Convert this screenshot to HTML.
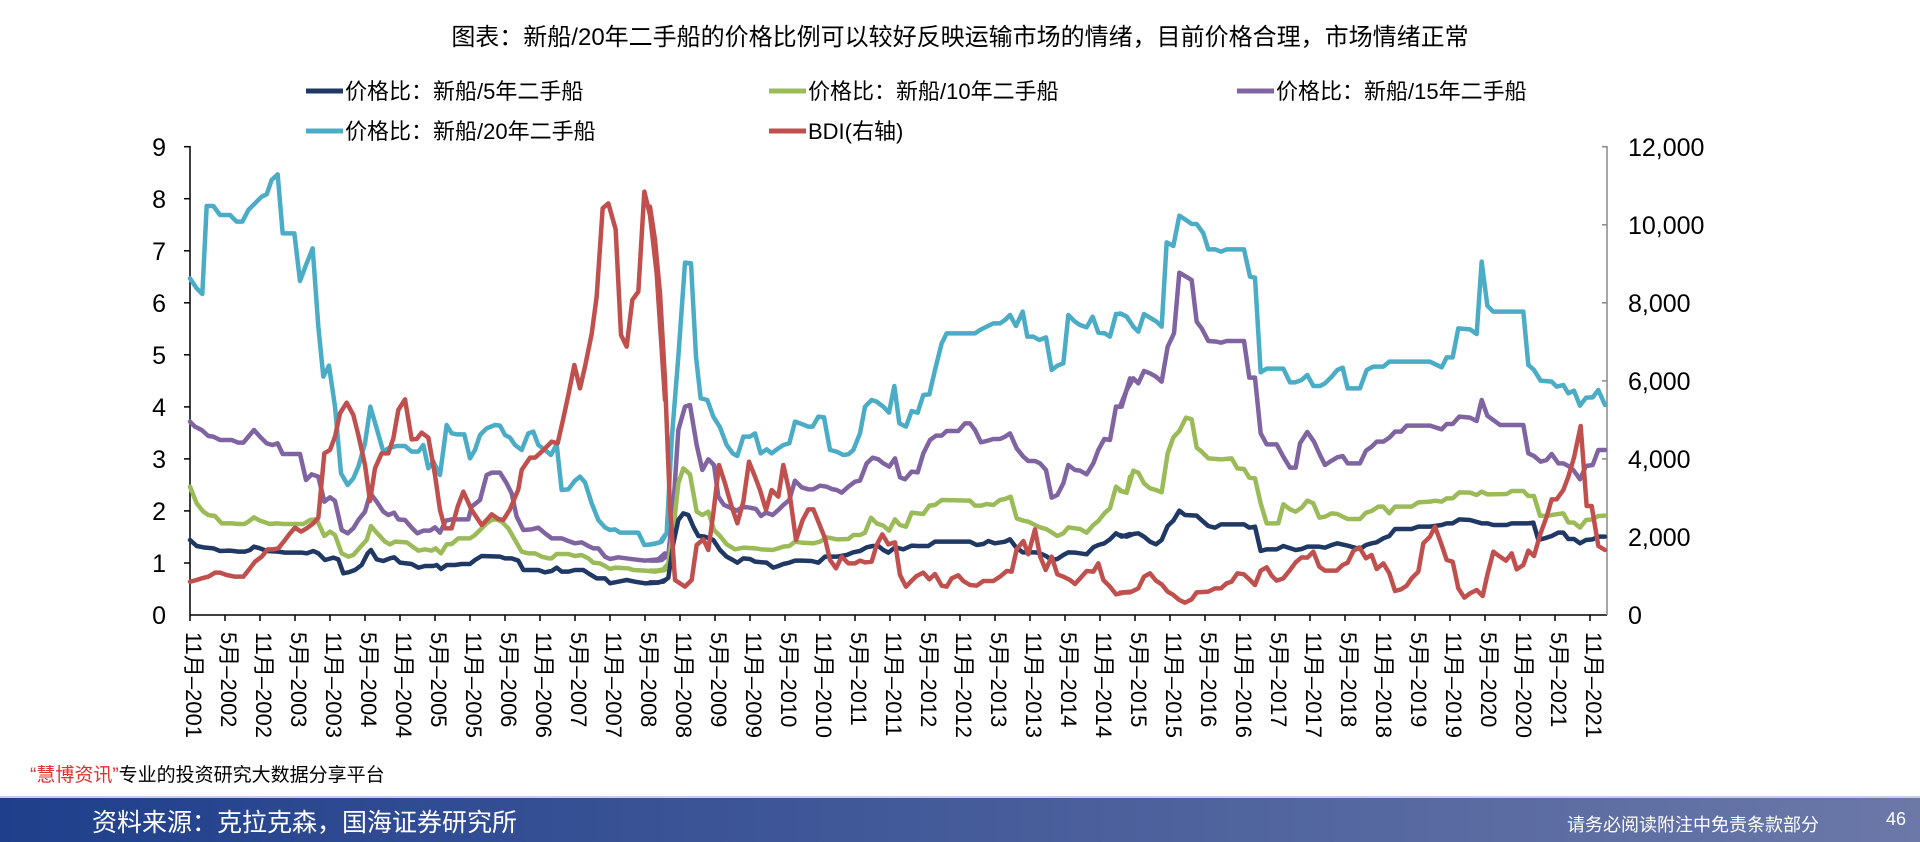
<!DOCTYPE html>
<html><head><meta charset="utf-8"><style>
html,body{margin:0;padding:0;background:#fff;}
body{width:1920px;height:842px;overflow:hidden;position:relative;font-family:"Liberation Sans","Noto Sans CJK SC",sans-serif;}
svg{position:absolute;left:0;top:0;}
text{font-family:"Liberation Sans","Noto Sans CJK SC",sans-serif;}
.s{fill:none;stroke-width:4.5;stroke-linejoin:round;stroke-linecap:round;vector-effect:non-scaling-stroke;}
.lb{stroke:#4bacc6}.p{stroke:#8064a2}.g{stroke:#9bbb59}.n{stroke:#1f3864}.r{stroke:#c0504d}
</style></head><body>
<svg width="1920" height="842" viewBox="0 0 1920 842">
<defs><linearGradient id="ft" x1="0" x2="1" y1="0" y2="0"><stop offset="0" stop-color="#1f3f8c"/><stop offset="1" stop-color="#6b78a8"/></linearGradient></defs>
<text x="960" y="45" font-size="24" text-anchor="middle" fill="#000">图表：新船/20年二手船的价格比例可以较好反映运输市场的情绪，目前价格合理，市场情绪正常</text>
<g font-size="22" fill="#000">
<line x1="306" y1="91" x2="343" y2="91" stroke="#1f3864" stroke-width="5"/><text x="345" y="99">价格比：新船/5年二手船</text>
<line x1="769" y1="91" x2="806" y2="91" stroke="#9bbb59" stroke-width="5"/><text x="808" y="99">价格比：新船/10年二手船</text>
<line x1="1237" y1="91" x2="1274" y2="91" stroke="#8064a2" stroke-width="5"/><text x="1276" y="99">价格比：新船/15年二手船</text>
<line x1="306" y1="131" x2="343" y2="131" stroke="#4bacc6" stroke-width="5"/><text x="345" y="139">价格比：新船/20年二手船</text>
<line x1="769" y1="131" x2="806" y2="131" stroke="#c0504d" stroke-width="5"/><text x="808" y="139">BDI(右轴)</text>
</g>
<g font-size="25" fill="#000" text-anchor="end">
<text x="166" y="156">9</text><text x="166" y="208">8</text><text x="166" y="260">7</text><text x="166" y="312">6</text><text x="166" y="364">5</text><text x="166" y="416">4</text><text x="166" y="468">3</text><text x="166" y="520">2</text><text x="166" y="572">1</text><text x="166" y="624">0</text>
</g>
<g font-size="25" fill="#000">
<text x="1628" y="156">12,000</text><text x="1628" y="234">10,000</text><text x="1628" y="312">8,000</text><text x="1628" y="390">6,000</text><text x="1628" y="468">4,000</text><text x="1628" y="546">2,000</text><text x="1628" y="624">0</text>
</g>
<g stroke="#000" stroke-width="1.5">
<line x1="190" y1="146" x2="190" y2="615"/>
<line x1="190" y1="615" x2="1607" y2="615"/>
<line x1="184" y1="146.7" x2="190" y2="146.7"/><line x1="184" y1="198.7" x2="190" y2="198.7"/><line x1="184" y1="250.8" x2="190" y2="250.8"/><line x1="184" y1="302.8" x2="190" y2="302.8"/><line x1="184" y1="354.8" x2="190" y2="354.8"/><line x1="184" y1="406.9" x2="190" y2="406.9"/><line x1="184" y1="458.9" x2="190" y2="458.9"/><line x1="184" y1="510.9" x2="190" y2="510.9"/><line x1="184" y1="563" x2="190" y2="563"/>
</g>
<g stroke="#888" stroke-width="1.5">
<line x1="1607" y1="146" x2="1607" y2="615"/>
<line x1="1602" y1="146.7" x2="1607" y2="146.7"/><line x1="1602" y1="224.8" x2="1607" y2="224.8"/><line x1="1602" y1="302.8" x2="1607" y2="302.8"/><line x1="1602" y1="380.9" x2="1607" y2="380.9"/><line x1="1602" y1="458.9" x2="1607" y2="458.9"/><line x1="1602" y1="537" x2="1607" y2="537"/>
</g>
<g id="xt" stroke="#000" stroke-width="1.5"></g>
<g id="xl" font-size="22" fill="#000"></g>

<g transform="translate(185,140) scale(0.33333)">
<polyline class="s lb" points="15,415 35,445 52,462 65,198 85,198 105,225 135,225 155,245 172,245 190,210 210,190 230,170 245,163 260,120 278,103 293,280 328,280 345,423 365,370 383,325 400,560 415,710 432,677 450,800 468,1000 488,1035 505,1015 520,980 540,910 556,800 575,865 595,935 610,925 635,918 660,918 680,935 700,935 715,915 730,985 745,965 765,1005 785,855 800,880 815,883 838,883 855,955 870,930 885,885 905,865 930,855 945,857 960,885 975,893 990,915 1010,930 1030,880 1045,875 1060,915 1080,930 1098,945 1115,913 1130,1050 1150,1048 1170,1022 1185,1010 1200,1027 1220,1090 1240,1140 1260,1162 1275,1170 1290,1168 1305,1178 1360,1178 1378,1215 1400,1213 1425,1207 1440,1185"/>
<polyline class="s p" points="15,845 30,860 50,870 70,888 85,890 105,900 140,900 160,908 175,908 190,890 207,870 225,890 245,910 262,915 278,910 293,942 345,942 363,1020 380,1003 400,1010 418,1085 435,1072 450,1083 470,1170 488,1180 505,1165 520,1140 540,1115 556,1060 575,1085 595,1115 610,1125 627,1118 640,1138 660,1140 680,1163 697,1180 715,1172 735,1172 750,1162 765,1178 782,1142 800,1138 850,1138 860,1100 885,1080 905,1005 920,998 945,998 965,1030 980,1060 995,1130 1015,1170 1040,1168 1060,1163 1080,1180 1100,1195 1130,1195 1150,1203 1170,1210 1190,1207 1210,1218 1225,1225 1240,1225 1260,1250 1275,1257 1300,1252 1345,1258 1380,1262 1420,1258 1440,1240"/>
<polyline class="s g" points="15,1040 35,1090 55,1115 70,1125 90,1128 110,1150 140,1150 160,1152 178,1152 190,1145 207,1132 225,1142 255,1152 275,1150 295,1152 355,1152 375,1140 395,1138 418,1188 435,1175 450,1185 470,1240 490,1250 505,1245 525,1222 545,1200 558,1158 575,1178 600,1205 615,1213 630,1205 665,1207 680,1218 700,1232 720,1228 740,1232 752,1225 768,1240 785,1213 800,1212 820,1195 855,1195 870,1185 905,1150 920,1140 935,1138 950,1145 970,1165 990,1200 1010,1235 1030,1240 1050,1240 1070,1250 1090,1255 1100,1255 1115,1242 1150,1242 1170,1248 1190,1245 1210,1255 1225,1268 1245,1270 1260,1278 1275,1287 1290,1283 1330,1285 1345,1290 1380,1292 1410,1295 1440,1290"/>
<polyline class="s n" points="15,1200 35,1218 55,1222 85,1225 105,1233 135,1232 160,1235 180,1235 195,1230 207,1220 225,1225 245,1233 280,1235 300,1238 350,1238 365,1240 385,1233 400,1240 420,1260 445,1253 460,1258 475,1300 490,1297 510,1290 530,1275 548,1240 558,1230 575,1258 595,1263 615,1255 628,1252 645,1268 680,1272 700,1283 720,1278 745,1278 755,1275 768,1287 785,1275 810,1275 830,1272 855,1272 870,1260 890,1248 945,1250 960,1255 980,1255 1000,1262 1015,1290 1035,1290 1060,1290 1080,1297 1100,1293 1115,1283 1130,1295 1150,1295 1170,1290 1195,1290 1215,1303 1235,1315 1260,1315 1275,1330 1300,1325 1325,1320 1350,1325 1380,1330 1420,1328 1440,1320"/>
<polyline class="s r" points="15,1325 35,1320 50,1315 70,1310 90,1298 105,1298 125,1305 150,1310 175,1310 195,1285 210,1265 230,1250 248,1228 265,1228 280,1225 300,1200 315,1180 330,1163 348,1175 365,1165 385,1150 400,1133 418,940 435,930 450,890 465,820 485,788 505,825 520,885 540,975 555,1083 570,985 590,940 610,940 625,895 640,810 660,778 680,898 695,897 710,878 730,893 750,1005 765,1110 780,1165 800,1165 818,1100 835,1055 860,1110 890,1155 905,1140 920,1123 940,1137 955,1140 975,1108 1000,1048 1010,990 1035,953 1050,953 1070,935 1100,905 1118,910 1135,835 1150,765 1168,675 1185,745 1200,680 1220,582 1235,470 1253,205 1270,190 1292,268 1308,585 1325,620 1342,480 1360,455 1378,155 1395,225 1415,400 1440,780"/>
</g>

<g transform="translate(650,140) scale(0.33333)">
<polyline class="s lb" points="0,1213 20,1210 35,1205 50,1180 65,900 85,650 105,368 123,370 138,650 152,775 172,780 190,830 210,862 230,915 248,940 262,948 280,890 300,890 315,880 332,940 350,928 365,940 385,925 400,915 418,910 435,845 455,852 475,860 488,860 505,830 522,832 540,930 560,935 580,945 595,943 610,930 630,880 645,800 665,780 680,785 700,800 717,818 733,738 748,850 768,860 785,813 803,818 820,765 838,763 855,690 875,610 890,580 975,580 990,570 1010,560 1030,550 1050,550 1065,540 1080,525 1098,558 1118,515 1132,590 1150,590 1168,600 1188,592 1205,690 1222,677 1240,670 1255,525 1275,545 1290,555 1310,562 1328,530 1345,578 1365,580 1380,590 1398,522 1415,522 1430,530 1440,545"/>
<polyline class="s p" points="0,1262 20,1262 35,1260 55,1245 70,1100 85,870 105,800 120,795 140,915 157,990 175,958 192,975 205,1070 222,1095 245,1105 260,1112 280,1100 300,1103 318,1107 333,1128 348,1118 368,1125 385,1110 400,1095 418,1080 435,1022 455,1042 475,1048 490,1048 510,1037 530,1040 545,1047 560,1050 575,1058 595,1040 615,1025 630,1022 650,970 668,953 685,958 700,970 718,980 735,955 750,1012 765,1018 785,995 803,997 820,940 840,900 858,887 875,887 890,873 925,873 945,850 960,850 975,870 993,907 1010,903 1030,897 1050,897 1065,890 1080,880 1100,925 1120,950 1135,963 1155,963 1170,970 1188,990 1205,1073 1222,1065 1240,1030 1255,975 1275,990 1290,992 1310,1003 1330,970 1345,930 1363,897 1380,900 1398,800 1415,800 1440,715"/>
<polyline class="s g" points="0,1292 20,1292 40,1288 55,1270 70,1170 85,1030 100,985 120,1003 140,1115 157,1125 175,1115 192,1170 210,1188 230,1213 255,1228 280,1223 315,1225 333,1228 368,1230 385,1225 400,1220 418,1218 435,1205 455,1208 490,1210 510,1205 530,1192 560,1198 595,1197 610,1185 630,1185 645,1178 663,1133 680,1150 700,1157 717,1172 735,1138 750,1155 768,1160 785,1118 803,1120 820,1122 838,1097 855,1095 875,1080 960,1082 975,1097 993,1097 1010,1092 1030,1095 1050,1080 1065,1077 1082,1070 1100,1135 1120,1142 1135,1145 1155,1155 1170,1162 1188,1167 1205,1177 1222,1188 1240,1180 1255,1162 1275,1165 1290,1167 1310,1178 1330,1155 1345,1143 1363,1120 1380,1105 1398,1040 1415,1053 1430,1057 1440,1010"/>
<polyline class="s n" points="0,1327 20,1327 40,1325 55,1313 70,1210 85,1140 100,1120 115,1125 130,1160 145,1188 165,1190 190,1200 210,1230 230,1250 245,1258 262,1268 280,1255 300,1257 315,1265 350,1268 370,1283 385,1278 400,1272 418,1268 435,1262 455,1262 485,1263 505,1268 525,1250 560,1250 590,1245 610,1237 630,1233 650,1222 668,1218 685,1218 700,1230 715,1238 735,1222 760,1228 785,1217 803,1218 835,1218 855,1205 960,1205 980,1215 1000,1212 1015,1203 1035,1210 1065,1205 1080,1198 1098,1222 1118,1237 1155,1237 1170,1240 1188,1248 1205,1260 1222,1257 1240,1245 1255,1237 1275,1238 1290,1240 1310,1243 1330,1222 1345,1215 1363,1210 1380,1198 1398,1180 1415,1190 1440,1182"/>
<polyline class="s r" points="0,200 15,300 30,460 45,720 60,1100 75,1320 90,1330 105,1340 125,1320 140,1215 160,1198 175,1230 190,1120 207,975 225,1030 245,1100 262,1150 280,1085 297,965 315,1010 330,1050 348,1110 365,1050 385,1070 400,975 418,1055 438,1200 458,1140 475,1108 490,1108 505,1145 525,1195 540,1260 558,1285 575,1250 595,1270 615,1270 630,1262 645,1267 665,1265 680,1215 697,1183 715,1213 735,1207 750,1305 768,1340 785,1322 800,1308 820,1298 838,1318 855,1302 875,1337 890,1340 905,1315 925,1306 940,1323 960,1335 980,1337 1000,1323 1030,1323 1050,1310 1070,1293 1085,1295 1100,1228 1120,1203 1135,1243 1155,1168 1170,1248 1187,1290 1205,1250 1222,1303 1240,1310 1260,1320 1275,1332 1295,1310 1310,1293 1330,1295 1345,1270 1360,1320 1380,1340 1398,1363 1420,1358 1440,1357"/>
</g>

<g transform="translate(1120,140) scale(0.33333)">
<polyline class="s lb" points="0,520 20,530 40,560 55,575 72,522 90,533 110,545 125,560 140,307 160,318 178,227 195,238 215,252 230,252 250,280 265,328 285,328 303,335 320,328 372,328 390,410 405,413 422,697 440,686 490,686 510,727 525,727 545,720 562,705 580,738 600,738 615,730 635,710 652,690 668,683 683,745 720,745 740,690 760,680 790,680 808,665 930,665 965,682 980,652 998,652 1015,565 1050,568 1070,582 1085,365 1102,497 1120,515 1210,515 1225,675 1242,690 1262,722 1295,725 1310,740 1330,735 1345,760 1362,752 1380,797 1398,773 1418,772 1435,750 1455,795"/>
<polyline class="s p" points="0,800 20,750 40,715 55,730 72,693 90,700 108,710 125,725 143,620 162,580 178,398 195,408 215,420 230,545 245,565 265,603 290,605 303,608 320,603 372,603 388,713 405,713 422,880 440,913 470,913 490,950 510,983 527,983 540,910 562,876 582,905 600,945 615,975 635,962 652,952 668,948 683,970 720,970 738,932 755,920 770,905 790,905 808,893 825,875 843,875 860,857 930,857 965,868 980,852 998,852 1018,830 1050,833 1070,843 1085,780 1102,827 1140,855 1210,855 1225,940 1242,948 1262,965 1280,960 1295,942 1315,970 1330,970 1345,978 1360,990 1380,1018 1398,978 1418,975 1435,930 1455,930"/>
<polyline class="s g" points="0,1053 20,1058 40,992 55,998 72,1030 90,1045 108,1050 125,1057 143,940 160,892 178,873 198,833 215,838 230,923 245,935 265,955 303,958 335,955 352,985 372,987 388,1013 405,1015 422,1090 440,1150 475,1150 490,1093 510,1108 527,1115 545,1103 562,1082 580,1090 598,1133 615,1130 635,1120 652,1122 668,1130 683,1137 720,1137 738,1118 755,1113 775,1100 790,1100 808,1120 825,1100 875,1100 895,1087 930,1085 945,1082 965,1085 980,1075 998,1075 1018,1057 1050,1058 1070,1065 1085,1055 1102,1063 1160,1062 1175,1053 1210,1053 1225,1068 1242,1068 1260,1127 1280,1128 1295,1125 1330,1120 1345,1147 1362,1148 1380,1163 1398,1140 1418,1138 1435,1128 1455,1127"/>
<polyline class="s n" points="0,1185 20,1190 40,1182 55,1180 72,1190 90,1205 108,1213 125,1200 143,1158 160,1142 178,1112 195,1125 230,1127 250,1145 265,1158 285,1163 303,1153 372,1153 388,1163 405,1160 422,1233 440,1228 470,1228 490,1218 527,1230 545,1227 562,1220 598,1220 615,1223 635,1215 652,1210 683,1217 720,1227 738,1215 755,1210 770,1207 790,1195 808,1188 825,1167 875,1167 895,1160 930,1160 965,1155 980,1150 998,1150 1018,1138 1050,1140 1085,1150 1102,1150 1120,1155 1160,1155 1175,1150 1225,1150 1240,1148 1255,1200 1280,1193 1295,1188 1315,1178 1330,1178 1345,1197 1362,1197 1380,1210 1398,1200 1418,1198 1435,1190 1455,1190"/>
<polyline class="s r" points="0,1358 35,1355 55,1345 72,1310 90,1300 108,1322 125,1333 143,1355 160,1365 178,1380 195,1388 215,1378 230,1357 265,1355 285,1345 303,1345 320,1330 335,1325 352,1300 372,1303 388,1318 405,1335 422,1292 440,1282 455,1307 470,1322 490,1315 510,1290 527,1267 545,1252 562,1253 580,1235 598,1280 615,1292 650,1292 668,1275 683,1268 700,1233 718,1222 738,1255 755,1245 770,1287 790,1270 808,1300 825,1353 843,1348 860,1337 875,1315 895,1295 910,1210 930,1190 945,1160 965,1215 980,1260 998,1265 1015,1345 1033,1373 1050,1360 1070,1350 1088,1368 1102,1305 1120,1235 1140,1250 1158,1262 1175,1240 1190,1288 1210,1275 1225,1232 1242,1248 1260,1185 1280,1130 1295,1078 1310,1078 1330,1050 1345,1010 1362,953 1382,858 1400,1098 1415,1098 1435,1218 1455,1230"/>
</g>

<text x="30" y="781" font-size="19" fill="#e03030">“慧博资讯”<tspan fill="#000">专业的投资研究大数据分享平台</tspan></text>
<rect x="0" y="797" width="1920" height="45" fill="url(#ft)"/>
<line x1="0" y1="797" x2="1920" y2="797" stroke="#c8cde0" stroke-width="2"/>
<text x="92" y="831" font-size="25" fill="#fff">资料来源：克拉克森，国海证券研究所</text>
<text x="1567" y="831" font-size="18" fill="#fff">请务必阅读附注中免责条款部分</text>
<text x="1886" y="825" font-size="18" fill="#fff">46</text>
</svg>
<script>
var xt=document.getElementById('xt'),xl=document.getElementById('xl'),ns='http://www.w3.org/2000/svg';
for(var k=0;k<=40;k++){var x=190+35*k;var l=document.createElementNS(ns,'line');l.setAttribute('x1',x);l.setAttribute('x2',x);l.setAttribute('y1',615);l.setAttribute('y2',621);xt.appendChild(l);
var t=document.createElementNS(ns,'text');var cx=186+35*k;t.setAttribute('transform','translate('+cx+',632) rotate(90)');
var y=2001+Math.floor((k+1)/2);t.textContent=(k%2==0?'11月–':'5月–')+y;xl.appendChild(t);}
</script>
</body></html>
